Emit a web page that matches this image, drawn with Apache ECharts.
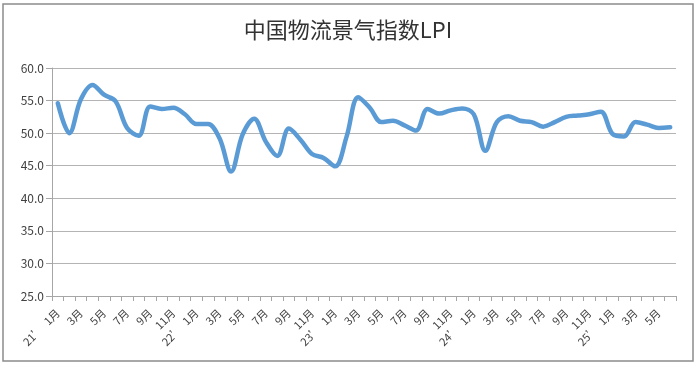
<!DOCTYPE html>
<html><head><meta charset="utf-8">
<script src="https://cdn.jsdelivr.net/npm/echarts@6/dist/echarts.min.js"></script>
<style>html,body{margin:0;padding:0;background:#fff}#c{width:696px;height:367px}</style>
</head><body><div id="c"></div>
<script>
const years = ["21’","22’","23’","24’","25’"];
const monthsPerYear = [12,12,12,12,6];
const lpi = [
 54.6,50.0,55.2,57.4,55.9,54.9,50.8,49.6,54.1,53.7,53.9,52.9,
 51.4,51.4,49.2,44.1,49.8,52.2,48.7,46.5,50.7,49.0,46.8,46.2,
 44.9,49.5,55.5,53.9,51.7,51.9,51.2,50.4,53.7,53.0,53.5,53.8,
 52.9,47.3,51.7,52.6,51.9,51.7,51.0,51.7,52.5,52.7,52.9,53.3,
 49.9,49.5,51.7,51.3,50.8,50.9
];
const yTicks = {min:25, max:60, interval:5};
const title = "中国物流景气指数LPI";

const categories = [];
years.forEach((y,yi)=>{for(let m=1;m<=monthsPerYear[yi];m++){categories.push(m===1? y+"|"+m+"月" : m+"月");}});

const chart = echarts.init(document.getElementById('c'));
chart.setOption({
  animation:false,
  title:{text:title,left:'center',top:14,textStyle:{fontSize:22,fontWeight:'normal',color:'#333',fontFamily:'"Noto Sans CJK SC", sans-serif'}},
  grid:{left:52,right:20,top:68,bottom:71},
  graphic:[{type:'rect',shape:{x:3,y:4,width:690,height:357},style:{fill:'none',stroke:'#8c8c8c',lineWidth:1.5},z:-1}],
  xAxis:{type:'category',data:categories,boundaryGap:true,
    axisLine:{show:true,lineStyle:{color:'#a6a6a6',width:1}},
    axisTick:{show:true,interval:0,length:5,lineStyle:{color:'#a6a6a6'}},
    axisLabel:{interval:1,rotate:45,fontSize:11,color:'#404040',margin:15,fontFamily:'"Noto Sans CJK SC", sans-serif',
      formatter:v=>{const p=v.split('|');return p.length>1?'{y|'+p[0]+'}{m|'+p[1]+'}':v;},
      rich:{y:{fontSize:11,color:'#404040',padding:[0,6,0,0],fontFamily:'"Noto Sans CJK SC", sans-serif'},m:{fontSize:11,color:'#404040',fontFamily:'"Noto Sans CJK SC", sans-serif'}}},
    splitLine:{show:false}},
  yAxis:{type:'value',min:yTicks.min,max:yTicks.max,interval:yTicks.interval,
    axisLine:{show:true,lineStyle:{color:'#a6a6a6'}},
    axisTick:{show:true,length:6,lineStyle:{color:'#a6a6a6'}},
    axisLabel:{formatter:v=>v.toFixed(1),fontSize:12,color:'#404040',margin:8,fontFamily:'"Noto Sans CJK SC", sans-serif'},
    splitLine:{show:true,lineStyle:{color:'#b4b4b4',width:1}}},
  series:[{type:'line',data:lpi,smooth:0.35,symbol:'none',
    lineStyle:{color:'#5b9bd5',width:4.5,cap:'round',join:'round'}}]
});
</script></body></html>
